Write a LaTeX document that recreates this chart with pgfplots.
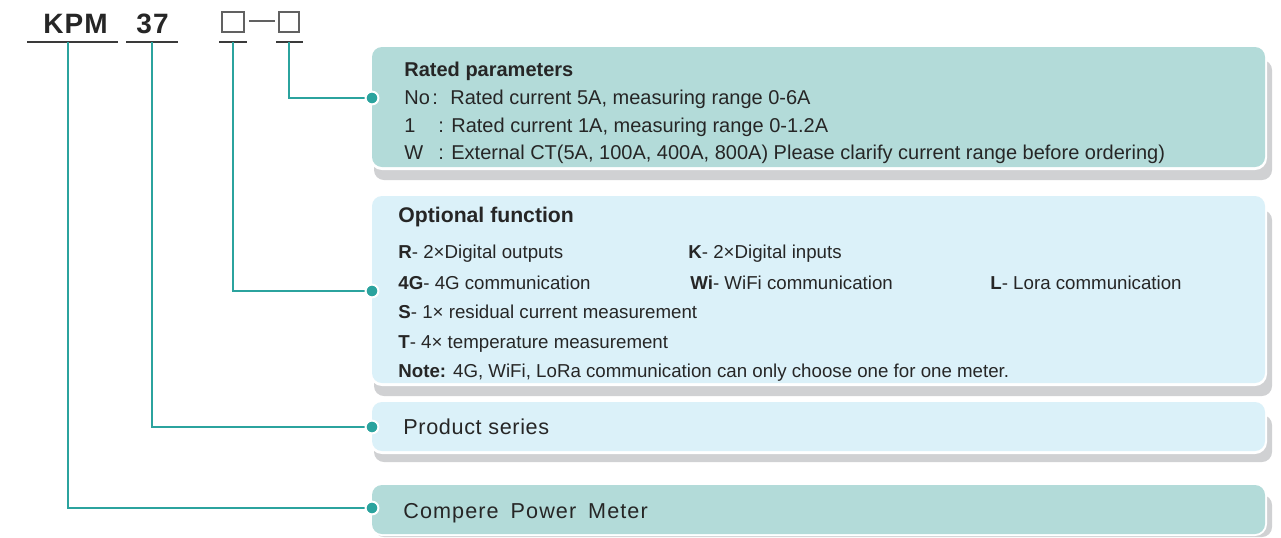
\documentclass[border=0pt]{standalone}
\usepackage{fontspec}
\setmainfont{Liberation Sans}
\usepackage{pgfplots}
\pgfplotsset{compat=1.18}
\definecolor{tealline}{HTML}{2BA39E}
\definecolor{boxteal}{HTML}{B3DBD9}
\definecolor{boxblue}{HTML}{DBF1F9}
\definecolor{shadowgray}{HTML}{D0D1D3}
\definecolor{txt}{HTML}{262626}
\definecolor{ulgray}{HTML}{3A3A3A}
\begin{document}
\begin{tikzpicture}
\begin{axis}[
  scale only axis, width=640.5pt, height=268.5pt,
  xmin=0, xmax=1281, ymin=0, ymax=537, y dir=reverse,
  hide axis, clip=false,
]
% background
\fill[white] (axis cs:0,0) rectangle (axis cs:1281,537);
% ---- panels ----
% panel 1 (rated parameters)
\fill[shadowgray, rounded corners=5pt] (axis cs:374,60) rectangle (axis cs:1272,180);
\fill[white, rounded corners=6pt] (axis cs:370,45) rectangle (axis cs:1267,170);
\fill[boxteal, rounded corners=5pt] (axis cs:372,47) rectangle (axis cs:1265,167);
% panel 2 (optional function)
\fill[shadowgray, rounded corners=5pt] (axis cs:374,210) rectangle (axis cs:1272,396);
\fill[white, rounded corners=6pt] (axis cs:370,194) rectangle (axis cs:1267,386);
\fill[boxblue, rounded corners=5pt] (axis cs:372,196) rectangle (axis cs:1265,383);
% panel 3 (product series)
\fill[shadowgray, rounded corners=5pt] (axis cs:374,415) rectangle (axis cs:1272,462);
\fill[white, rounded corners=6pt] (axis cs:370,400) rectangle (axis cs:1267,454);
\fill[boxblue, rounded corners=5pt] (axis cs:372,402) rectangle (axis cs:1265,451);
% panel 4 (compere power meter)
\fill[shadowgray, rounded corners=5pt] (axis cs:374,495) rectangle (axis cs:1272,537);
\fill[white, rounded corners=6pt] (axis cs:370,483) rectangle (axis cs:1267,536);
\fill[boxteal, rounded corners=5pt] (axis cs:372,485) rectangle (axis cs:1265,534);

% ---- model code header ----
\node[anchor=base, inner sep=0pt, text=txt, font=\fontsize{14}{16}\selectfont\bfseries\addfontfeature{LetterSpace=4}] at (axis cs:75.5,33) {KPM};
\node[anchor=base, inner sep=0pt, text=txt, font=\fontsize{14}{16}\selectfont\bfseries\addfontfeature{LetterSpace=4}] at (axis cs:152.5,33) {37};
\draw[ulgray!80, line width=0.8pt] (axis cs:222,12) rectangle (axis cs:244,32);
\draw[ulgray!80, line width=0.8pt] (axis cs:279,12) rectangle (axis cs:299,32);
\addplot[ulgray!80, line width=0.8pt] coordinates {(249,21) (275,21)};
% underlines
\addplot[ulgray, line width=0.8pt] coordinates {(27,42) (118,42)};
\addplot[ulgray, line width=0.8pt] coordinates {(126,42) (178,42)};
\addplot[ulgray, line width=0.8pt] coordinates {(219,42) (247,42)};
\addplot[ulgray, line width=0.8pt] coordinates {(276,42) (303,42)};
% connector lines
\addplot[tealline, line width=0.9pt] coordinates {(289,42) (289,98) (372,98)};
\addplot[tealline, line width=0.9pt] coordinates {(233,42) (233,291) (372,291)};
\addplot[tealline, line width=0.9pt] coordinates {(152,42) (152,427) (372,427)};
\addplot[tealline, line width=0.9pt] coordinates {(68,42) (68,508) (372,508)};
% dots
\addplot[only marks, mark=*, mark size=3.2pt, mark options={fill=tealline, draw=white, line width=1pt}]
  coordinates {(372,98) (372,291) (372,427) (372,508)};

% ---- panel 1 text ----
\begin{scope}[every node/.style={anchor=base west, inner sep=0pt, text=txt, font=\fontsize{10}{12}\selectfont}]
\node at (axis cs:404,76) {\textbf{Rated parameters}};
\node at (axis cs:404,104) {No};
\node at (axis cs:432,104) {:};
\node at (axis cs:450,104) {Rated current 5A, measuring range 0-6A};
\node at (axis cs:404,132) {1};
\node at (axis cs:438,132) {: Rated current 1A, measuring range 0-1.2A};
\node at (axis cs:404,159) {W};
\node at (axis cs:438,159) {: External CT(5A, 100A, 400A, 800A) Please clarify current range before ordering)};
\end{scope}

% ---- panel 2 text ----
\node[anchor=base west, inner sep=0pt, text=txt, font=\fontsize{10.6}{12}\selectfont\bfseries] at (axis cs:398,222) {Optional function};
\begin{scope}[every node/.style={anchor=base west, inner sep=0pt, text=txt, font=\fontsize{9.35}{11}\selectfont}]
\node at (axis cs:398,258) {\textbf{R}- 2×Digital outputs};
\node at (axis cs:688,258) {\textbf{K}- 2×Digital inputs};
\node at (axis cs:398,289) {\textbf{4G}- 4G communication};
\node at (axis cs:690,289) {\textbf{Wi}- WiFi communication};
\node at (axis cs:990,289) {\textbf{L}- Lora communication};
\node at (axis cs:398,318) {\textbf{S}- 1× residual current measurement};
\node at (axis cs:398,348) {\textbf{T}- 4× temperature measurement};
\node at (axis cs:398,377) {\textbf{Note:} 4G, WiFi, LoRa communication can only choose one for one meter.};
\end{scope}

% ---- panel 3/4 text ----
\node[anchor=base west, inner sep=0pt, text=txt, font=\fontsize{10.8}{13}\selectfont\addfontfeature{LetterSpace=3}] at (axis cs:403,434) {Product series};
\node[anchor=base west, inner sep=0pt, text=txt, font=\fontsize{10.8}{13}\selectfont\addfontfeature{LetterSpace=5}] at (axis cs:403,518) {Compere\hspace{6pt}Power\hspace{6pt}Meter};
\end{axis}
\end{tikzpicture}
\end{document}
